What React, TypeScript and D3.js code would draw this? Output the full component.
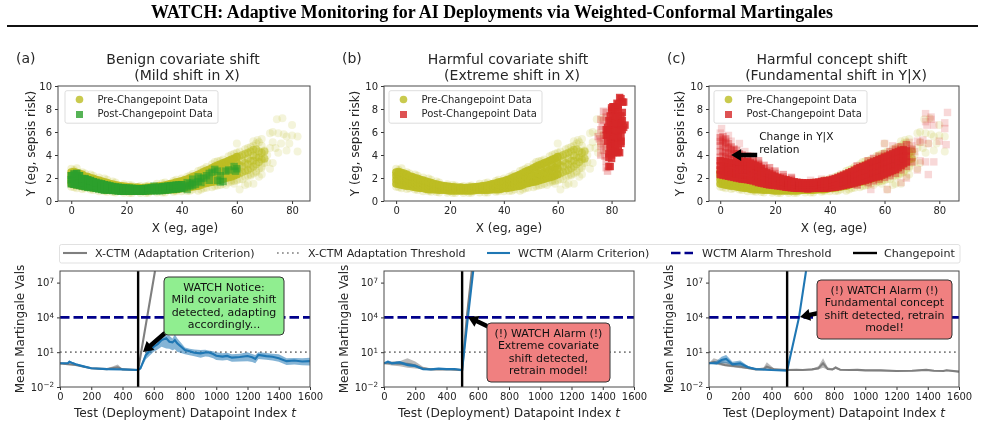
import React, { useEffect, useRef } from 'react';
import * as d3 from 'd3';

type Row = [number, number[]];

// scatter data, each row is x then the y values seen at that x
const preBand: Row[] = [
  [0, [1.5, 1.85, 2.2, 2.5]], [1, [1.45, 1.9, 2.35, 2.55]], [2, [1.4, 1.75, 2.1, 2.45]], [3, [1.35, 1.8, 2.25, 2.4]], [4, [1.3, 1.6, 1.95, 2.3]],
  [5, [1.3, 1.7, 2.15]], [6, [1.25, 1.5, 1.8, 2.1]], [7, [1.2, 1.6, 2.0]], [8, [1.15, 1.4, 1.65, 1.95]], [9, [1.12, 1.5, 1.85]],
  [10, [1.1, 1.3, 1.55, 1.8]], [11, [1.05, 1.4, 1.72]], [12, [1.0, 1.2, 1.45, 1.65]], [13, [1.0, 1.3, 1.58]], [14, [1.0, 1.15, 1.35, 1.5]],
  [15, [0.97, 1.2, 1.45]], [16, [0.95, 1.1, 1.25, 1.4]], [17, [0.95, 1.15, 1.35]], [18, [0.95, 1.05, 1.2, 1.3]], [19, [0.92, 1.1, 1.28]],
  [20, [0.9, 1.0, 1.15, 1.25]], [21, [0.9, 1.05, 1.22]], [22, [0.9, 1.0, 1.1, 1.2]], [23, [0.9, 1.0, 1.18]], [24, [0.9, 1.0, 1.05, 1.2]],
  [25, [0.9, 1.0, 1.16]], [26, [0.9, 0.95, 1.05, 1.15]], [27, [0.9, 1.0, 1.17]], [28, [0.9, 1.0, 1.1, 1.2]], [29, [0.92, 1.05, 1.22]],
  [30, [0.95, 1.0, 1.1, 1.25]], [31, [0.95, 1.1, 1.27]], [32, [0.95, 1.05, 1.15, 1.3]], [33, [0.95, 1.1, 1.33]], [34, [0.95, 1.1, 1.25, 1.38]],
  [35, [0.97, 1.2, 1.44]], [36, [1.0, 1.15, 1.3, 1.5]], [37, [1.0, 1.25, 1.55]], [38, [1.0, 1.2, 1.4, 1.62]], [39, [1.05, 1.35, 1.68]],
  [40, [1.1, 1.3, 1.5, 1.75]], [41, [1.1, 1.4, 1.82]], [42, [1.15, 1.4, 1.65, 1.9]], [43, [1.2, 1.55, 2.0]], [44, [1.25, 1.5, 1.8, 2.1]],
  [45, [1.28, 1.7, 2.2]], [46, [1.3, 1.65, 1.95, 2.3]], [47, [1.4, 1.85, 2.42]], [48, [1.5, 1.8, 2.15, 2.55]], [49, [1.55, 2.0, 2.65]],
  [50, [1.6, 1.95, 2.35, 2.75]], [51, [1.65, 2.2, 2.88]], [52, [1.7, 2.1, 2.5, 3.0]], [53, [1.78, 2.4, 3.1]], [54, [1.85, 2.25, 2.7, 3.2]],
  [55, [1.92, 2.5, 3.3]], [56, [2.0, 2.4, 2.9, 3.4]], [57, [2.05, 2.7, 3.5]], [58, [2.1, 2.6, 3.1, 3.6]], [59, [2.2, 2.9, 3.7]], [60, [2.3, 2.8, 3.3, 3.85]],
];
const preTail: Row[] = [
  [61, [2.4, 3.1, 3.9]], [62, [2.5, 3.0, 3.5, 4.0]], [63, [2.6, 3.3, 4.1]], [64, [2.7, 3.2, 3.7, 4.2]], [65, [2.85, 3.5, 4.3]],
  [66, [3.0, 3.5, 3.95, 4.45]], [67, [3.2, 3.8, 4.5]], [68, [3.4, 3.8, 4.3]], [69, [3.6, 4.2]], [70, [3.7, 4.3]],
];
const preHalo: Row[] = [
  [0, [1.25, 2.8]], [2, [1.1, 2.85]], [4, [1.05, 2.5]], [7, [1.0, 2.3]], [10, [0.85, 2.05]], [13, [0.8, 1.85]],
  [16, [0.75, 1.6]], [19, [0.72, 1.45]], [22, [0.7, 1.35]], [25, [0.7, 1.3]], [28, [0.72, 1.35]], [31, [0.75, 1.5]],
  [34, [0.75, 1.6]], [37, [0.8, 1.75]], [40, [0.85, 1.95]], [43, [0.9, 2.2]], [46, [0.9, 2.6]], [49, [1.15, 2.95]],
  [52, [1.3, 3.4]], [55, [1.5, 3.6]], [58, [1.7, 4.0]], [61, [1.9, 4.3]], [64, [2.2, 4.6]], [67, [2.5, 5.0]],
  [69, [2.9, 4.8]], [70, [3.3, 4.4]], [1, [1.2, 2.7]], [5, [1.1, 2.4]], [12, [0.85, 1.95]], [38, [0.85, 1.85]],
  [44, [1.0, 2.35]], [48, [1.1, 2.8]], [51, [1.2, 3.2]], [54, [1.4, 3.5]], [57, [1.6, 3.9]], [60, [1.8, 4.2]],
  [63, [2.1, 4.5]], [66, [2.4, 4.8]], [68, [2.8, 5.1]], [8, [0.95, 2.2]], [15, [0.78, 1.7]], [21, [0.7, 1.4]], [27, [0.7, 1.3]],
  [33, [0.75, 1.55]], [42, [0.88, 2.1]], [47, [1.0, 2.7]], [53, [1.35, 3.45]], [59, [1.75, 4.1]], [65, [2.3, 4.7]],
];
const preOutliers: [number, number][] = [
  [74.5, 7.1], [76.5, 7.2], [73, 6], [72, 5.9], [66, 5.2], [67.5, 5.3], [69, 5.4], [75, 5.9], [77, 5.8], [80, 6.6],
  [80, 5.7], [78, 5.6], [82, 5.6], [79, 5], [76, 5], [73, 5.1], [74, 4.6], [72, 4.6], [75, 4.2], [78, 4.4], [82, 4.3],
  [71, 4], [73, 3.3], [72, 2.8], [69, 2.3], [68, 2.1], [63, 1.4], [61, 1], [59, 1.5], [66, 1.5], [60, 5], [64, 1.5],
  [70, 3.6], [71, 3.4], [69, 3], [67, 2.6], [65, 2.2], [62, 1.9], [58, 1.8], [56, 1.4],
];

const postBandA: Row[] = [
  [0, [1.5, 1.85, 2.2]], [1, [1.45, 1.9, 2.35]], [2, [1.4, 1.75, 2.1, 2.4]], [3, [1.35, 1.8, 2.2]], [4, [1.3, 1.6, 1.95]], [5, [1.25, 1.6, 1.95]],
  [6, [1.2, 1.5, 1.85]], [7, [1.17, 1.5, 1.78]], [8, [1.15, 1.35, 1.68]], [9, [1.1, 1.35, 1.62]], [10, [1.05, 1.25, 1.55]], [11, [1.0, 1.25, 1.5]],
  [12, [0.95, 1.15, 1.42]], [13, [0.95, 1.15, 1.38]], [14, [0.95, 1.1, 1.32]], [15, [0.92, 1.1, 1.26]], [16, [0.9, 1.05, 1.22]], [17, [0.87, 1.05, 1.2]],
  [18, [0.85, 1.0, 1.17]], [19, [0.85, 1.0, 1.15]], [20, [0.85, 1.0, 1.12]], [21, [0.85, 1.0, 1.12]], [22, [0.85, 0.95, 1.1]], [23, [0.85, 0.95, 1.08]],
  [24, [0.85, 0.95, 1.07]], [25, [0.85, 0.95, 1.07]], [26, [0.85, 0.95, 1.07]], [27, [0.87, 1.0, 1.1]], [28, [0.9, 1.0, 1.12]], [29, [0.9, 1.0, 1.14]],
  [30, [0.9, 1.0, 1.16]], [31, [0.9, 1.05, 1.18]], [32, [0.9, 1.05, 1.2]], [33, [0.92, 1.05, 1.24]], [34, [0.95, 1.1, 1.27]], [35, [0.97, 1.1, 1.3]],
  [36, [1.0, 1.15, 1.32]], [37, [1.02, 1.2, 1.35]], [38, [1.05, 1.2, 1.38]], [39, [1.08, 1.25, 1.4]], [40, [1.1, 1.25, 1.42]],
];
const postSparseA: [number, number][] = [
  [49, 2.2], [50, 1.8], [51, 2.5], [52, 2.75], [53, 1.8], [54, 2.2], [55, 1.7], [56, 2.6], [59, 3.0], [59.5, 2.6],
  [60, 2.8], [48, 2.0], [46, 2.1], [44, 1.9], [57, 2.7], [50, 2.4], [53, 2.6], [54, 1.65], [42, 1.0], [30, 1.3],
  [43, 1.3], [43, 1.5], [44, 1.6], [45, 1.45], [46, 1.7], [47, 1.95], [47, 1.6], [42, 1.6], [41, 1.2], [42, 1.35], [44, 1.35],
];
const postDenseB: [number, number][] = [
  [83, 9], [83.5, 8.9], [84, 8.6], [84.5, 8.6], [82, 8.5], [80, 8.1], [81, 8.2], [82, 8.2], [80, 7.9], [84, 7.7],
  [84, 7], [79, 7], [83, 6.6], [85, 6.6], [84.5, 6.4], [78, 6.2], [79, 6.2], [84, 6.2], [78, 5.7],
  [80, 5.1], [83.5, 5.2], [79.5, 4.7], [83, 4.2], [82, 4.2], [79, 4.1], [80, 4], [79, 3.8], [80, 3.7], [79.5, 3], [79, 3],
];
const postBandB: Row[] = [
  [78.5, [5.2, 5.8, 6.4]], [79.5, [4.4, 5, 5.6, 6.2, 6.8, 7.4]], [80.5, [4.2, 4.8, 5.4, 6, 6.6, 7.2, 7.8, 8.2]],
  [81.5, [4.4, 5, 5.6, 6.2, 6.8, 7.4, 8]], [82.5, [4.3, 4.9, 5.5, 6.1, 6.7, 7.3, 7.9, 8.4]], [83.5, [5, 5.6, 6.2, 6.8, 7.4]],
];
const postSparseB: [number, number][] = [
  [77, 7.8], [78, 7.7], [76, 7.1], [77, 7], [76.5, 6.5], [75, 5.6], [75.5, 5.4], [76, 5.2], [77, 5], [76, 4.7], [77, 4.4],
  [76, 4], [77.5, 3.9], [78, 3.5], [78.5, 2.6], [78, 2.9], [78, 7.3], [76, 6.2], [77, 5.7], [78, 4.6],
];
const postBandC: Row[] = [
  [0, [2.3, 2.7, 3.1, 3.5]], [1, [2.25, 2.65, 3.05, 3.45]], [2, [2.2, 2.6, 3.0, 3.4]], [3, [2.15, 2.55, 2.95, 3.35]], [4, [2.1, 2.5, 2.9, 3.3]],
  [5, [2.05, 2.45, 2.85, 3.3]], [6, [2.0, 2.4, 2.8, 3.2, 3.5]], [7, [1.95, 2.35, 2.75, 3.15, 3.45]], [8, [1.9, 2.3, 2.7, 3.1, 3.4]], [9, [1.88, 2.3, 2.7, 3.1, 3.4]],
  [10, [1.85, 2.3, 2.7, 3.1, 3.4]], [11, [1.8, 2.2, 2.6, 3.0, 3.3]], [12, [1.75, 2.15, 2.55, 2.9, 3.2]], [13, [1.68, 2.1, 2.45, 2.8, 3.1]], [14, [1.6, 2.0, 2.35, 2.7, 3.0]],
  [15, [1.55, 1.9, 2.3, 2.6, 2.85]], [16, [1.5, 1.85, 2.2, 2.55]], [17, [1.45, 1.8, 2.1, 2.45]], [18, [1.4, 1.7, 2.0, 2.35]], [19, [1.38, 1.65, 1.95, 2.25]],
  [20, [1.35, 1.6, 1.85, 2.15]], [21, [1.32, 1.55, 1.8, 2.05]], [22, [1.3, 1.5, 1.75, 1.98]], [23, [1.25, 1.45, 1.7, 1.9]], [24, [1.2, 1.4, 1.6, 1.85]],
  [25, [1.18, 1.38, 1.58, 1.78]], [26, [1.15, 1.35, 1.55, 1.72]], [27, [1.12, 1.32, 1.5, 1.67]], [28, [1.1, 1.3, 1.45, 1.63]], [29, [1.1, 1.28, 1.42, 1.6]],
  [30, [1.1, 1.25, 1.4, 1.58]], [31, [1.08, 1.25, 1.4, 1.57]], [32, [1.05, 1.25, 1.4, 1.57]], [33, [1.08, 1.25, 1.4, 1.58]], [34, [1.1, 1.25, 1.4, 1.6]],
  [35, [1.1, 1.28, 1.42, 1.62]], [36, [1.1, 1.3, 1.45, 1.65]], [37, [1.1, 1.3, 1.48, 1.7]], [38, [1.1, 1.3, 1.5, 1.75]], [39, [1.12, 1.32, 1.52, 1.78]],
  [40, [1.15, 1.35, 1.55, 1.82]], [41, [1.18, 1.4, 1.62, 1.88]], [42, [1.2, 1.45, 1.7, 1.95]], [43, [1.25, 1.5, 1.78, 2.05]], [44, [1.3, 1.55, 1.85, 2.15]],
  [45, [1.35, 1.62, 1.92, 2.25]], [46, [1.4, 1.7, 2.0, 2.35]], [47, [1.45, 1.78, 2.1, 2.45]], [48, [1.5, 1.85, 2.2, 2.55]], [49, [1.58, 1.92, 2.28, 2.68]],
  [50, [1.65, 2.0, 2.35, 2.8]], [51, [1.7, 2.08, 2.45, 2.9]], [52, [1.75, 2.15, 2.55, 3.0]], [53, [1.82, 2.22, 2.65, 3.1]], [54, [1.9, 2.3, 2.75, 3.2]],
  [55, [1.98, 2.38, 2.85, 3.3]], [56, [2.05, 2.45, 2.95, 3.4]], [57, [2.1, 2.55, 3.02, 3.5]], [58, [2.15, 2.65, 3.1, 3.6]], [59, [2.25, 2.75, 3.2, 3.7]],
  [60, [2.35, 2.85, 3.3, 3.8]], [61, [2.45, 2.95, 3.4, 3.9]], [62, [2.55, 3.05, 3.5, 4.0]], [63, [2.65, 3.15, 3.6, 4.1]], [64, [2.75, 3.25, 3.7, 4.2]],
  [65, [2.9, 3.38, 3.82, 4.3]], [66, [3.1, 3.5, 3.95, 4.4]], [67, [3.25, 3.7, 4.1, 4.45]], [68, [3.4, 3.9, 4.35]],
];
const postUpperC: Row[] = [
  [0, [3.8, 4.3, 4.8, 5.2, 5.5]], [1, [3.9, 4.4, 5.0, 5.3, 5.6]], [2, [3.8, 4.2, 4.7, 5.1, 5.4]], [3, [3.7, 4.1, 4.6, 5.0]],
  [4, [3.6, 4.0, 4.4, 4.7]], [5, [3.7, 4.1, 4.5]], [6, [3.8, 4.1, 4.4]], [7, [3.7, 4.1]], [8, [3.7, 4.0]], [10, [3.6, 3.9]], [12, [3.4, 3.7]], [14, [3.2, 3.5]],
  [16, [2.8, 3.1]], [18, [2.6, 2.9]], [20, [2.4, 2.6]], [23, [2.1, 2.3]], [26, [1.9, 2.05]], [66, [2.7, 4.7]], [68, [3.0, 4.9]], [70, [3.4, 4.5]], [62, [2.2, 4.3]],
  [64, [2.4, 4.5]], [58, [1.9, 3.9]], [60, [2.05, 4.1]], [54, [1.6, 3.5]], [56, [1.75, 3.7]], [50, [1.4, 3.05]],
];
const postSparseC: [number, number][] = [
  [0.5, 6.3], [75, 7.6], [77, 7.3], [83, 7.7], [82, 6.8], [75, 6.9], [77, 7.1], [78, 6.6], [75.5, 6.6], [82, 6.3], [80, 5.2],
  [82.5, 4.9], [74, 5.3], [72, 5.2], [73, 5.1], [76, 5], [60, 5], [63, 4.8], [65, 4.7], [68, 4.9], [69, 5.1], [70, 3.8], [75, 3.4],
  [78, 3.4], [76, 2.3], [73, 3.5], [72, 2.7], [68, 2], [66, 1.6], [61, 1], [55, 1], [50, 1.4], [37, 1.9], [41, 2], [33, 1.8],
  [7, 5], [5, 4.5], [9, 4.3], [3, 5.7], [0, 5.9], [4, 5.2], [11, 3.9], [14, 3.3], [17, 2.8], [70, 4.8], [71, 4.3],
];

// martingale curves: t, mean, lower, upper
const wctmA = [
  [0, 1.1, 1, 1.2], [50, 1.1, 0.95, 1.3], [60, 1.5, 1.2, 1.9], [80, 1.15, 0.95, 1.4], [100, 0.9, 0.8, 1.1], [150, 0.6, 0.52, 0.7], [200, 0.41, 0.38, 0.46],
  [300, 0.35, 0.32, 0.42], [400, 0.33, 0.3, 0.36], [500, 0.29, 0.27, 0.31], [515, 0.41, 0.3, 0.6], [550, 5.8, 2.5, 11], [600, 30, 11, 79], [625, 48, 17, 90],
  [650, 112, 30, 200], [680, 158, 21, 300], [700, 79, 20, 260], [720, 70, 15, 150], [735, 110, 18, 360], [750, 58, 11, 158], [800, 15.5, 6.6, 25],
  [830, 12, 5.5, 20], [860, 9, 4.5, 17], [900, 8, 3.4, 15.5], [930, 9.5, 4.2, 16], [950, 9.8, 4, 14], [980, 7, 3, 12], [1000, 5, 2.1, 9.8],
  [1040, 4.2, 1.9, 8], [1070, 4.8, 2.1, 9], [1100, 3.4, 1.5, 6.6], [1150, 3.8, 1.6, 7.5], [1200, 4.7, 1.7, 9.8], [1230, 3.6, 1.4, 7], [1250, 2.6, 1.1, 5.8],
  [1270, 5.8, 2.6, 9.8], [1320, 4.6, 2.2, 8.5], [1360, 4, 1.9, 7.5], [1400, 3, 1.5, 6.6], [1450, 1.7, 0.8, 3], [1500, 1.9, 0.85, 3.2], [1550, 1.6, 0.75, 3], [1600, 1.7, 0.7, 3.4],
];
const xctmA = [
  [0, 1.1, 1, 1.2], [100, 0.8, 0.7, 0.9], [200, 0.41, 0.38, 0.46], [300, 0.35, 0.32, 0.4], [370, 0.5, 0.35, 0.85], [400, 0.33, 0.3, 0.36],
  [500, 0.29, 0.27, 0.31], [608, 1e8, 1e8, 1e8],
];
const wctmB = [
  [0, 1.1, 0.95, 1.3], [25, 1.5, 1.2, 2], [50, 1.1, 0.9, 1.4], [75, 1.2, 0.9, 1.6], [100, 1.35, 0.9, 1.7], [125, 1.05, 0.75, 1.4], [150, 0.8, 0.6, 1.1], [200, 0.65, 0.5, 0.9],
  [250, 0.35, 0.32, 0.4], [300, 0.33, 0.3, 0.36], [350, 0.38, 0.32, 0.44], [400, 0.35, 0.3, 0.4], [450, 0.36, 0.32, 0.4], [500, 0.29, 0.27, 0.31], [537, 1e4, 1e4, 1e4],
  [571, 1e8, 1e8, 1e8],
];
const xctmB = [
  [0, 1.1, 0.95, 1.3], [50, 1.1, 0.7, 1.6], [100, 1, 0.6, 1.7], [150, 1, 0.45, 3], [200, 0.7, 0.4, 1.6], [250, 0.4, 0.32, 0.55],
  [300, 0.33, 0.3, 0.38], [400, 0.35, 0.3, 0.42], [500, 0.29, 0.27, 0.31], [530, 1e4, 2e3, 3e4], [562, 1e8, 1e7, 1e8],
];
const wctmC = [
  [0, 1.1, 1, 1.2], [50, 1.1, 0.85, 1.8], [80, 2.1, 1.1, 4.1], [110, 2.6, 1.1, 5.8], [150, 0.9, 0.7, 1.5], [200, 1.1, 0.65, 1.9],
  [250, 0.5, 0.42, 0.65], [300, 0.35, 0.32, 0.4], [400, 0.29, 0.27, 0.32], [500, 0.26, 0.25, 0.28], [576, 1e4, 1e4, 1e4], [621, 1e8, 1e8, 1e8],
];
const xctmC = [
  [0, 1.1, 1, 1.2], [30, 1.5, 0.95, 3], [100, 0.8, 0.6, 1.5], [200, 0.56, 0.42, 1], [300, 0.33, 0.3, 0.38], [350, 0.35, 0.3, 0.5], [370, 0.56, 0.35, 1.35],
  [420, 0.33, 0.3, 0.36], [500, 0.29, 0.26, 0.31], [560, 0.3, 0.26, 0.34], [600, 0.29, 0.26, 0.32], [660, 0.33, 0.28, 0.38], [700, 0.41, 0.32, 0.6], [730, 1.1, 0.45, 3], [760, 0.35, 0.3, 0.5],
  [790, 0.33, 0.28, 0.38], [810, 0.47, 0.35, 0.65], [840, 0.31, 0.27, 0.36], [900, 0.29, 0.26, 0.32], [950, 0.3, 0.26, 0.33], [1000, 0.27, 0.24, 0.3], [1100, 0.27, 0.23, 0.3], [1200, 0.24, 0.22, 0.27],
  [1300, 0.25, 0.22, 0.28], [1390, 0.3, 0.25, 0.36], [1440, 0.25, 0.22, 0.28], [1500, 0.24, 0.22, 0.27], [1520, 0.28, 0.23, 0.31], [1600, 0.21, 0.19, 0.24],
];

const scatterTitles = [
  ['Benign covariate shift', '(Mild shift in X)'],
  ['Harmful covariate shift', '(Extreme shift in X)'],
  ['Harmful concept shift', '(Fundamental shift in Y|X)'],
];
const panelTags = ['(a)', '(b)', '(c)'];
const xTicks = [0, 20, 40, 60, 80];
const yTicks = [0, 2, 4, 6, 8, 10];
const tTicks = [0, 200, 400, 600, 800, 1000, 1200, 1400, 1600];
const logTicks = [1e-2, 1e1, 1e4, 1e7];
const noteA = ['WATCH Notice:', 'Mild covariate shift', 'detected, adapting', 'accordingly...'];
const noteB = ['(!) WATCH Alarm (!)', 'Extreme covariate', 'shift detected,', 'retrain model!'];
const noteC = ['(!) WATCH Alarm (!)', 'Fundamental concept', 'shift detected, retrain', 'model!'];

const expand = (rows: Row[]) => rows.flatMap(([x, ys]) => ys.map(y => [x, y] as [number, number]));

const OLIVE = '#bcbd22';
const GREEN = '#2ca02c';
const RED = '#d62728';
const BLUE = '#1f77b4';
const GRAY = '#7f7f7f';
const NAVY = '#00008b';
const FONT = '"DejaVu Sans", sans-serif';
const INK = '#262626';

const App = () => {
  const ref = useRef<SVGSVGElement>(null);

  useEffect(() => {
    drawChart();
  }, []);

  const drawChart = () => {
    const svg = d3.select(ref.current);
    svg.selectAll('*').remove();
    svg.style('font-family', FONT);

    svg.append('text')
      .attr('x', 492).attr('y', 18).attr('text-anchor', 'middle')
      .style('font-family', '"Liberation Serif", serif').style('font-weight', 'bold').style('font-size', '17.9px')
      .text('WATCH: Adaptive Monitoring for AI Deployments via Weighted-Conformal Martingales');
    svg.append('line').attr('x1', 7).attr('x2', 978).attr('y1', 26).attr('y2', 26).attr('stroke', '#111').attr('stroke-width', 2);

    const topPanels = [
      {
        left: 58, right: 310, dom: [-4.8, 86.5], ylx: 35, xlx: 185, tagX: 16, tx: [183, 187], color: GREEN,
        layers: [
          { pts: postSparseA, op: 0.6 },
          { pts: expand(postBandA), op: 0.9 },
        ],
      },
      {
        left: 384, right: 635, dom: [-4.5, 88.7], ylx: 359, xlx: 509, tagX: 342, tx: [508, 512], color: RED,
        layers: [
          { pts: postSparseB, op: 0.28 },
          { pts: postDenseB, op: 0.85 },
          { pts: expand(postBandB), op: 0.9 },
        ],
      },
      {
        left: 709, right: 959, dom: [-4.1, 87.2], ylx: 684, xlx: 834, tagX: 667, tx: [832, 836], color: RED,
        layers: [
          { pts: postSparseC, op: 0.18 },
          { pts: expand(postUpperC), op: 0.42 },
          { pts: expand(postBandC), op: 0.9 },
        ],
      },
    ];

    topPanels.forEach((p, i) => {
      const top = 86;
      const bottom = 201;
      const x = d3.scaleLinear().domain(p.dom).range([p.left, p.right]);
      const y = d3.scaleLinear().domain([0, 10]).range([bottom, top]);
      const clipId = `clip-top-${i}`;
      svg.append('clipPath').attr('id', clipId).append('rect')
        .attr('x', p.left).attr('y', top).attr('width', p.right - p.left).attr('height', bottom - top);
      const g = svg.append('g').attr('clip-path', `url(#${clipId})`);

      const circles = (pts: [number, number][], op: number) => {
        g.append('g').selectAll('circle').data(pts).join('circle')
          .attr('cx', d => x(d[0])).attr('cy', d => y(d[1])).attr('r', 4)
          .attr('fill', OLIVE).attr('fill-opacity', op);
      };
      const squares = (pts: [number, number][], op: number) => {
        g.append('g').selectAll('rect').data(pts).join('rect')
          .attr('x', d => x(d[0]) - 3.7).attr('y', d => y(d[1]) - 3.7).attr('width', 7.4).attr('height', 7.4)
          .attr('fill', p.color).attr('fill-opacity', op);
      };
      circles(preOutliers, 0.16);
      circles(expand(preHalo), 0.2);
      circles(expand(preTail), 0.5);
      circles(expand(preBand), 0.9);
      p.layers.forEach(l => squares(l.pts, l.op));

      drawFrame(svg, x, y, p.left, p.right, top, bottom, xTicks, yTicks, (d: number) => String(d));

      // scatter legend
      const lx = p.left + (i === 0 ? 7 : 5);
      const lg = svg.append('g');
      lg.append('rect').attr('x', lx).attr('y', 90.7).attr('width', 153).attr('height', 32.5).attr('rx', 2)
        .attr('fill', '#fff').attr('fill-opacity', 0.8).attr('stroke', '#d4d4d4').attr('stroke-width', 0.8);
      lg.append('circle').attr('cx', lx + 14.5).attr('cy', 99.5).attr('r', 3.8).attr('fill', OLIVE).attr('fill-opacity', 0.8);
      lg.append('rect').attr('x', lx + 11).attr('y', 111).attr('width', 7).attr('height', 7).attr('fill', p.color).attr('fill-opacity', 0.8);
      ['Pre-Changepoint Data', 'Post-Changepoint Data'].forEach((t, k) => {
        lg.append('text').attr('x', lx + 32.5).attr('y', 102.7 + k * 14.7).attr('fill', INK).style('font-size', '10px').text(t);
      });

      // titles and labels
      scatterTitles[i].forEach((t, k) => {
        svg.append('text').attr('x', p.tx[k]).attr('y', 64 + k * 16).attr('text-anchor', 'middle')
          .attr('fill', INK).style('font-size', '14px').text(t);
      });
      svg.append('text').attr('x', p.tagX).attr('y', 63).attr('fill', INK).style('font-size', '14px').text(panelTags[i]);
      svg.append('text').attr('x', p.xlx).attr('y', 232).attr('text-anchor', 'middle').attr('fill', INK)
        .style('font-size', '12px').text('X (eg, age)');
      svg.append('text').attr('transform', `translate(${p.ylx},143.5) rotate(-90)`).attr('text-anchor', 'middle').attr('fill', INK)
        .style('font-size', '12px').text('Y (eg, sepsis risk)');

      if (i === 2) {
        svg.append('text').attr('x', x(13.5) + 2).attr('y', 140).attr('fill', '#111').style('font-size', '10.6px').text('Change in Y|X');
        svg.append('text').attr('x', x(13.5) + 2).attr('y', 153).attr('fill', '#111').style('font-size', '10.6px').text('relation');
        drawArrow(svg, x(13.5), y(4), x(4), y(4));
      }
    });

    const bottomPanels = [
      { left: 60, right: 310, ylx: 24, xlx: 185, w: wctmA, g: xctmA },
      { left: 384, right: 634, ylx: 348, xlx: 509, w: wctmB, g: xctmB },
      { left: 709, right: 959, ylx: 673, xlx: 834, w: wctmC, g: xctmC },
    ];

    bottomPanels.forEach((p, i) => {
      const top = 271;
      const bottom = 387;
      const x = d3.scaleLinear().domain([0, 1600]).range([p.left, p.right]);
      const y = d3.scaleLog().domain([1e-2, 1e8]).range([bottom, top]);
      const clipId = `clip-bottom-${i}`;
      svg.append('clipPath').attr('id', clipId).append('rect')
        .attr('x', p.left).attr('y', top).attr('width', p.right - p.left).attr('height', bottom - top);
      const g = svg.append('g').attr('clip-path', `url(#${clipId})`);

      const series = (rows: number[][], color: string) => {
        const band = d3.area<number[]>().x(d => x(d[0])).y0(d => y(d[2])).y1(d => y(d[3]));
        const line = d3.line<number[]>().x(d => x(d[0])).y(d => y(d[1]));
        g.append('path').attr('d', band(rows)).attr('fill', color).attr('fill-opacity', 0.55);
        g.append('path').attr('d', line(rows)).attr('fill', 'none').attr('stroke', color).attr('stroke-width', 2.1);
      };
      g.append('line').attr('x1', p.left).attr('x2', p.right).attr('y1', y(10)).attr('y2', y(10))
        .attr('stroke', GRAY).attr('stroke-width', 1.7).attr('stroke-dasharray', '1.7 3.3');
      series(p.g, GRAY);
      series(p.w, BLUE);
      g.append('line').attr('x1', p.left).attr('x2', p.right).attr('y1', y(1e4)).attr('y2', y(1e4))
        .attr('stroke', NAVY).attr('stroke-width', 2.6).attr('stroke-dasharray', '9.5 4');
      g.append('line').attr('x1', x(500)).attr('x2', x(500)).attr('y1', top).attr('y2', bottom)
        .attr('stroke', '#000').attr('stroke-width', 2.4);

      drawFrame(svg, x, y, p.left, p.right, top, bottom, tTicks, logTicks, null);

      svg.append('text').attr('x', p.xlx).attr('y', 417).attr('text-anchor', 'middle').attr('fill', INK).style('font-size', '12.2px')
        .call((t: any) => {
          t.append('tspan').text('Test (Deployment) Datapoint Index ');
          t.append('tspan').style('font-style', 'italic').text('t');
        });
      svg.append('text').attr('transform', `translate(${p.ylx},329) rotate(-90)`).attr('text-anchor', 'middle').attr('fill', INK)
        .style('font-size', '12px').text('Mean Martingale Vals');
    });

    drawArrow(svg, 165, 333, 143, 352);
    drawNote(svg, 164, 277, 120, 58, '#90ee90', noteA);
    drawArrow(svg, 489, 327, 468, 317);
    drawNote(svg, 487, 323, 123, 59, '#f08080', noteB);
    drawArrow(svg, 819, 313, 800, 317);
    drawNote(svg, 817, 280, 135, 59, '#f08080', noteC);

    // shared legend of the lower row
    const lg = svg.append('g');
    lg.append('rect').attr('x', 59.5).attr('y', 244.5).attr('width', 900.5).attr('height', 18.5).attr('rx', 2)
      .attr('fill', '#fff').attr('stroke', '#d9d9d9').attr('stroke-width', 0.8);
    const entries = [
      { x1: 63, x2: 87, tx: 95, label: 'X-CTM (Adaptation Criterion)', color: GRAY, w: 2.1, dash: '' },
      { x1: 277, x2: 300, tx: 308, label: 'X-CTM Adaptation Threshold', color: GRAY, w: 1.7, dash: '1.7 3.3' },
      { x1: 487, x2: 510, tx: 518, label: 'WCTM (Alarm Criterion)', color: BLUE, w: 2.1, dash: '' },
      { x1: 671, x2: 693, tx: 702, label: 'WCTM Alarm Threshold', color: NAVY, w: 2.6, dash: '9.5 4' },
      { x1: 853, x2: 877, tx: 884, label: 'Changepoint', color: '#000', w: 2.4, dash: '' },
    ];
    entries.forEach(e => {
      lg.append('line').attr('x1', e.x1).attr('x2', e.x2).attr('y1', 253).attr('y2', 253)
        .attr('stroke', e.color).attr('stroke-width', e.w).attr('stroke-dasharray', e.dash);
      lg.append('text').attr('x', e.tx).attr('y', 257).attr('fill', INK).style('font-size', '11.1px').text(e.label);
    });
  };

  const drawFrame = (svg: any, x: any, y: any, left: number, right: number, top: number, bottom: number, xt: number[], yt: number[], fmt: any) => {
    svg.append('g').attr('transform', `translate(0,${bottom})`)
      .call(d3.axisBottom(x).tickValues(xt).tickSize(3).tickPadding(3).tickFormat(d3.format('d') as any))
      .call(styleAxis);
    const yAxis = svg.append('g').attr('transform', `translate(${left},0)`)
      .call(d3.axisLeft(y).tickValues(yt).tickSize(3).tickPadding(3).tickFormat((fmt || (() => '')) as any))
      .call(styleAxis);
    if (!fmt) {
      yAxis.selectAll('.tick').each(function (this: any, d: any) {
        const text = d3.select(this).select('text');
        text.append('tspan').text('10');
        text.append('tspan').attr('dy', '-0.45em').style('font-size', '7.2px').text(String(Math.round(Math.log10(d))).replace('-', '\u2212'));
      });
    }
    svg.append('rect').attr('x', left).attr('y', top).attr('width', right - left).attr('height', bottom - top)
      .attr('fill', 'none').attr('stroke', '#4a4a4a').attr('stroke-width', 1);
  };

  const styleAxis = (g: any) => {
    g.select('.domain').remove();
    g.selectAll('.tick line').attr('stroke', '#333');
    g.selectAll('.tick text').attr('fill', INK).style('font-size', '10px').style('font-family', FONT);
  };

  const drawArrow = (svg: any, x0: number, y0: number, x1: number, y1: number) => {
    const angle = Math.atan2(y1 - y0, x1 - x0);
    const len = Math.hypot(x1 - x0, y1 - y0);
    const g = svg.append('g').attr('transform', `translate(${x1},${y1}) rotate(${(angle * 180) / Math.PI})`);
    g.append('path')
      .attr('d', `M0,0 L-10,-6 L-10,-2.2 L${-len},-2.2 L${-len},2.2 L-10,2.2 L-10,6 Z`)
      .attr('fill', '#000');
  };

  const drawNote = (svg: any, x: number, y: number, w: number, h: number, fill: string, lines: string[]) => {
    svg.append('rect').attr('x', x).attr('y', y).attr('width', w).attr('height', h).attr('rx', 4)
      .attr('fill', fill).attr('stroke', '#333').attr('stroke-width', 1);
    lines.forEach((t, k) => {
      svg.append('text').attr('x', x + w / 2).attr('y', y + 14 + k * 12.3).attr('text-anchor', 'middle')
        .attr('fill', '#111').style('font-size', '11px').text(t);
    });
  };

  return <svg ref={ref} width={985} height={426} style={{ position: 'absolute', left: 0, top: 0, background: '#fff', filter: 'blur(0.45px)' }} />;
};
export default App;
